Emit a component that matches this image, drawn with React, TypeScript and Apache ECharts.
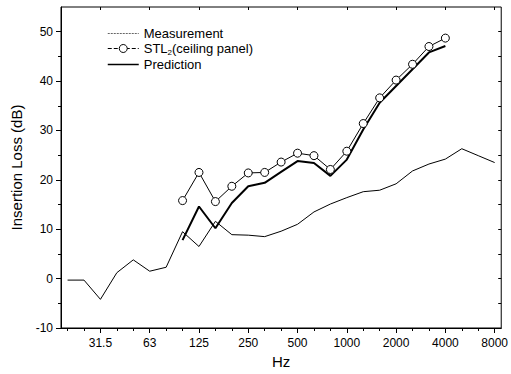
import React, { useEffect, useRef } from "react";
import * as echarts from "echarts";

// Third-octave band centre frequencies; index 0 = 31.5 Hz
const bandFreqs = [20, 25, 31.5, 40, 50, 63, 80, 100, 125, 160, 200, 250, 315, 400, 500, 630, 800, 1000, 1250, 1600, 2000, 2500, 3150, 4000, 5000, 6300, 8000];
const bandStartIndex = -2;

const tickLabels = ["31.5", "63", "125", "250", "500", "1000", "2000", "4000", "8000"];
const tickLabelIndex = [0, 3, 6, 9, 12, 15, 18, 21, 24];

// Measurement: 20 Hz .. 8000 Hz
const measurement = [-0.3, -0.3, -4.2, 1.2, 3.8, 1.5, 2.3, 9.5, 6.5, 11.6, 8.9, 8.8, 8.5, 9.6, 11.0, 13.5, 15.1, 16.4, 17.6, 17.9, 19.2, 21.8, 23.2, 24.2, 26.3, 24.9, 23.5];
// STL2 (ceiling panel): 100 Hz .. 4000 Hz
const stlFreqs = [100, 125, 160, 200, 250, 315, 400, 500, 630, 800, 1000, 1250, 1600, 2000, 2500, 3150, 4000];
const stl = [15.8, 21.5, 15.6, 18.7, 21.4, 21.5, 23.6, 25.4, 24.9, 22.1, 25.8, 31.4, 36.6, 40.2, 43.4, 47.0, 48.7];
// Prediction: 100 Hz .. 4000 Hz
const prediction = [7.8, 14.6, 10.2, 15.3, 18.7, 19.4, 21.6, 23.8, 23.4, 20.8, 24.1, 30.2, 35.6, 39.0, 42.4, 45.8, 47.1];

const idxOf = (f: number) => bandFreqs.indexOf(f) + bandStartIndex;

export default function App() {
  const ref = useRef<HTMLDivElement>(null);
  useEffect(() => {
    if (!ref.current) return;
    const chart = echarts.init(ref.current, undefined, { renderer: "svg" });
    const font = "'Liberation Sans', Arial, sans-serif";
    const measData = bandFreqs.map((f, i) => [idxOf(f), measurement[i]]);
    const stlData = stlFreqs.map((f, i) => [idxOf(f), stl[i]]);
    const predData = stlFreqs.map((f, i) => [idxOf(f), prediction[i]]);
    const minorX = bandFreqs.map((f) => idxOf(f));
    const xMin = -2.4;
    const xMax = 24.4;
    const yMin = -10;
    const yMax = 55;
    const yMajor = [-10, 0, 10, 20, 30, 40, 50];
    const yMinor = [-5, 5, 15, 25, 35, 45];
    const labelMap: Record<number, string> = {};
    tickLabelIndex.forEach((v, i) => (labelMap[v] = tickLabels[i]));
    const hiddenLine = { show: false, onZero: false };
    chart.setOption({
      animation: false,
      backgroundColor: "#fff",
      textStyle: { fontFamily: font, color: "#000" },
      grid: { left: 61, right: 8, top: 7, bottom: 46, show: true, borderColor: "#000", borderWidth: 1, backgroundColor: "transparent" },
      legend: {
        orient: "vertical",
        left: 107,
        top: 27,
        padding: 0,
        itemWidth: 31,
        itemHeight: 10,
        itemGap: 2,
        textStyle: {
          fontFamily: font,
          fontSize: 13,
          color: "#000",
          rich: {
            sub: { fontSize: 8, padding: [7, 0, 0, 0], fontFamily: font, color: "#000" },
          },
        },
        formatter: (name: string) => (name === "STL2(ceiling panel)" ? "STL{sub|2}(ceiling panel)" : name),
        data: [
          { name: "Measurement", itemStyle: { opacity: 0, borderWidth: 0 }, lineStyle: { type: [2, 1], width: 1, color: "#666" } },
          { name: "STL2(ceiling panel)", itemStyle: { color: "#fff", borderColor: "#000", borderWidth: 1, borderType: "solid" }, lineStyle: { type: [4, 2], width: 1 } },
          { name: "Prediction", itemStyle: { opacity: 0, borderWidth: 0 }, lineStyle: { width: 1.5 } },
        ],
      },
      xAxis: [
        {
          type: "value",
          min: xMin,
          max: xMax,
          name: "Hz",
          nameLocation: "middle",
          nameGap: 26,
          nameTextStyle: { fontFamily: font, fontSize: 15, color: "#000" },
          axisLine: { show: true, onZero: false, lineStyle: { color: "#000", width: 1 } },
          axisTick: { show: true, inside: false, length: 5, customValues: tickLabelIndex, lineStyle: { color: "#000" } },
          axisLabel: {
            show: true,
            margin: 9,
            fontFamily: font,
            fontSize: 12,
            color: "#000",
            customValues: tickLabelIndex,
            formatter: (v: number) => labelMap[Math.round(v)] ?? "",
          },
          splitLine: { show: false },
        },
        {
          type: "value",
          min: xMin,
          max: xMax,
          position: "bottom",
          axisLine: hiddenLine,
          axisTick: { show: true, length: 3, customValues: minorX, lineStyle: { color: "#000" } },
          axisLabel: { show: false },
          splitLine: { show: false },
        },
        {
          type: "value",
          min: xMin,
          max: xMax,
          position: "top",
          axisLine: hiddenLine,
          axisTick: { show: true, inside: true, length: 3, customValues: tickLabelIndex, lineStyle: { color: "#000" } },
          axisLabel: { show: false },
          splitLine: { show: false },
        },
      ],
      yAxis: [
        {
          type: "value",
          min: yMin,
          max: yMax,
          position: "left",
          name: "Insertion Loss (dB)",
          nameLocation: "middle",
          nameGap: 37,
          nameTextStyle: { fontFamily: font, fontSize: 15, color: "#000" },
          axisLine: { show: true, onZero: false, lineStyle: { color: "#000", width: 1 } },
          axisTick: { show: true, length: 5, customValues: yMajor, lineStyle: { color: "#000" } },
          axisLabel: { show: true, margin: 8, fontFamily: font, fontSize: 12, color: "#000", customValues: yMajor },
          splitLine: { show: false },
        },
        {
          type: "value",
          min: yMin,
          max: yMax,
          position: "left",
          axisLine: hiddenLine,
          axisTick: { show: true, length: 3, customValues: yMinor, lineStyle: { color: "#000" } },
          axisLabel: { show: false },
          splitLine: { show: false },
        },
        {
          type: "value",
          min: yMin,
          max: yMax,
          position: "right",
          axisLine: hiddenLine,
          axisTick: { show: true, inside: true, length: 3, customValues: yMajor.concat(yMinor), lineStyle: { color: "#000" } },
          axisLabel: { show: false },
          splitLine: { show: false },
        },
      ],
      series: [
        {
          name: "Measurement",
          type: "line",
          xAxisIndex: 0,
          yAxisIndex: 0,
          data: measData,
          symbol: "none",
          lineStyle: { color: "#000", width: 1 },
          itemStyle: { color: "#000" },
        },
        {
          name: "STL2(ceiling panel)",
          type: "line",
          xAxisIndex: 0,
          yAxisIndex: 0,
          data: stlData,
          symbol: "circle",
          symbolSize: 8,
          lineStyle: { color: "#000", width: 1 },
          itemStyle: { color: "#fff", borderColor: "#000", borderWidth: 1 },
          z: 3,
        },
        {
          name: "Prediction",
          type: "line",
          xAxisIndex: 0,
          yAxisIndex: 0,
          data: predData,
          symbol: "none",
          lineStyle: { color: "#000", width: 2 },
          itemStyle: { color: "#000" },
          z: 2,
        },
      ],
    });
    return () => chart.dispose();
  }, []);
  return <div ref={ref} style={{ position: "fixed", left: 0, top: 0, width: 511, height: 374, background: "#fff" }} />;
}
